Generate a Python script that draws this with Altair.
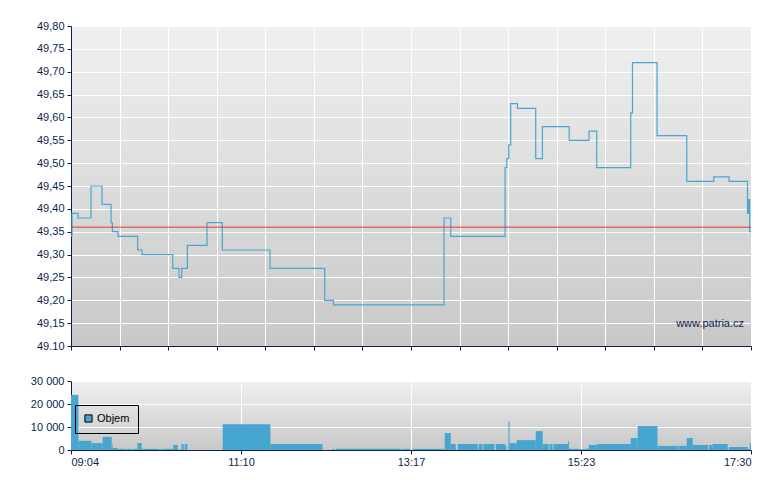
import altair as alt
import pandas as pd

# ---- data (minutes after 09:04) ----
price_t = [0, 0.75, 5.2, 14.9, 23.1, 29.8, 30.8, 35.0, 49.6, 52.9, 75.7, 80.4, 82.4,
           86.6, 101.2, 112.6, 148.1, 188.8, 195.3, 277.6, 282.6, 323.0, 324.3, 325.7,
           327.2, 332.2, 345.8, 350.8, 370.7, 385.5, 391.2, 416.5, 417.8, 436.1, 458.2,
           478.3, 489.7, 503.4, 504.1, 505.0, 506.0]
price_v = [49.34, 49.39, 49.38, 49.45, 49.41, 49.37, 49.35, 49.34, 49.31, 49.30, 49.27,
           49.25, 49.27, 49.32, 49.37, 49.31, 49.27, 49.20, 49.19, 49.38, 49.34, 49.49,
           49.51, 49.54, 49.63, 49.62, 49.51, 49.58, 49.55, 49.57, 49.49, 49.61, 49.72,
           49.56, 49.46, 49.47, 49.46, 49.39, 49.42, 49.35, 49.35]

vol_start = [0, 5.5, 15.2, 23.6, 30.3, 31.0, 34.5, 41.5, 45.2, 49.4, 52.6, 54.3, 66.2,
             68.2, 76.2, 79.4, 82.2, 84.6, 112.9, 148.4, 194.5, 197.0, 246.6, 254.5,
             278.1, 282.6, 287.8, 303.4, 306.9, 316.1, 323.0, 325.5, 326.3, 331.7, 345.8,
             351.0, 356.2, 359.0, 369.9, 370.6, 377.1, 382.3, 385.3, 391.2, 416.5, 421.7,
             436.4, 452.0, 458.2, 462.7, 474.8, 477.3, 489.5, 503.6, 505.1]
vol_end = [5.5, 15.2, 23.6, 30.3, 31.0, 34.5, 40.7, 44.4, 49.4, 52.6, 54.3, 65.8, 67.5,
           76.2, 79.4, 82.2, 83.9, 86.6, 148.4, 187.1, 196.0, 245.9, 252.1, 277.6,
           282.6, 286.3, 302.7, 306.2, 315.1, 323.0, 324.0, 326.3, 331.7, 345.8, 351.0,
           355.5, 358.3, 369.9, 370.6, 377.1, 382.3, 385.3, 391.2, 416.5, 421.7, 436.4,
           451.5, 458.2, 462.7, 474.1, 477.3, 488.7, 503.6, 505.1, 506.0]
vol_value = [24000, 4000, 3000, 5700, 2600, 900, 500, 500, 500, 3000, 500, 500, 500,
             500, 2200, 200, 2600, 2600, 11200, 2600, 500, 500, 500, 500,
             7400, 2600, 2600, 2600, 2600, 2600, 2000, 12500, 3000, 4300, 8200,
             2600, 2600, 2600, 3900, 500, 300, 500, 2200, 2600, 5200, 10400,
             1800, 1800, 5200, 2200, 2200, 2600, 1300, 500, 3000]
vol_series = ["Objem"] * len(vol_value)

prev_close = [49.36]
watermark = ["www.patria.cz"]

price_ticks = [49.10, 49.15, 49.20, 49.25, 49.30, 49.35, 49.40, 49.45, 49.50,
               49.55, 49.60, 49.65, 49.70, 49.75, 49.80]
price_tick_labels = ["49.10", "49,15", "49,20", "49,25", "49,30", "49,35", "49,40",
                     "49,45", "49,50", "49,55", "49,60", "49,65", "49,70", "49,75", "49,80"]
top_x_ticks = [0, 36.14, 72.29, 108.43, 144.57, 180.71, 216.86, 253.0, 289.14,
               325.29, 361.43, 397.57, 433.71, 469.86, 506.0]
time_ticks = [0, 126.5, 253.0, 379.5, 506.0]
time_labels = ["09:04", "11:10", "13:17", "15:23", "17:30"]
vol_ticks = [0, 10000, 20000, 30000]
vol_tick_labels = ["0", "10 000", "20 000", "30 000"]

NAVY = "#0b1f4e"
LINE = "#4aa5d0"
BAR = "#46a6cf"
RED = "#e8342e"
FONT = "Liberation Sans"


def lookup_expr(labels, start, step):
    arr = "[" + ",".join("'" + s + "'" for s in labels) + "]"
    return f"{arr}[round((datum.value - {start}) / {step})]"


price_df = pd.DataFrame({"t": price_t, "p": price_v})
vol_df = pd.DataFrame({"t0": vol_start, "t1": vol_end, "v": vol_value, "s": vol_series})

xscale = alt.Scale(domain=[0, 506], nice=False, zero=False)

y_price = alt.Y(
    "p:Q", scale=alt.Scale(domain=[49.10, 49.80], nice=False, zero=False),
    axis=alt.Axis(values=price_ticks, title=None, tickSize=4, labelPadding=3,
                  labelOverlap=False, tickCount=15,
                  labelExpr=lookup_expr(price_tick_labels, 49.10, 0.05),
                  minExtent=41, maxExtent=41),
)

line = alt.Chart(price_df).mark_line(
    interpolate="step-after", color=LINE, strokeWidth=1.2
).encode(
    x=alt.X("t:Q", scale=xscale,
            axis=alt.Axis(values=top_x_ticks, labels=False, title=None, tickSize=4, grid=True)),
    y=y_price,
)
rule = alt.Chart(pd.DataFrame({"p": prev_close})).mark_rule(color=RED, strokeWidth=1).encode(
    y=y_price
)
wm = alt.Chart(pd.DataFrame({"w": watermark})).mark_text(
    align="right", baseline="middle", font=FONT, fontSize=11, color=NAVY
).encode(x=alt.value(673), y=alt.value(298), text="w:N")

top = alt.layer(line, rule, wm).properties(width=680, height=320)

bars = alt.Chart(vol_df).mark_rect().encode(
    x=alt.X("t0:Q", scale=xscale,
            axis=alt.Axis(values=time_ticks, title=None, grid=True, tickSize=4, labelPadding=2,
                          labelOverlap=False,
                          labelExpr=lookup_expr(time_labels, 0, 126.5))),
    x2="t1:Q",
    y=alt.Y("v:Q", scale=alt.Scale(domain=[0, 30000], nice=False),
            axis=alt.Axis(values=vol_ticks, title=None, tickSize=4, labelPadding=3,
                          labelOverlap=False,
                          labelExpr=lookup_expr(vol_tick_labels, 0, 10000),
                          minExtent=41, maxExtent=41)),
    y2=alt.datum(0),
    color=alt.Color("s:N", scale=alt.Scale(domain=["Objem"], range=[BAR]),
                    legend=alt.Legend(orient="none", legendX=4, legendY=24, title=None,
                                      strokeColor="black", padding=8, symbolType="square",
                                      symbolSize=52, symbolStrokeColor="black",
                                      symbolStrokeWidth=1, symbolOpacity=1,
                                      labelFont=FONT, labelFontSize=11, labelColor="black",
                                      labelOffset=3)),
).properties(width=680, height=69)

grad = ("{gradient: 'linear', x1: 0, y1: 0, x2: 0, y2: 1, "
        "stops: [{offset: 0, color: '#f0f0f0'}, {offset: 1, color: '#c8c8c8'}]}")

chart = alt.vconcat(top, bars, spacing=24).resolve_scale(color="independent").properties(
    padding={"left": 22, "top": 12, "right": 5, "bottom": 5},
    background="white",
).configure_view(
    stroke=None, fill={"expr": grad}
).configure_axis(
    domainColor=NAVY, tickColor=NAVY, labelColor=NAVY, labelFont=FONT, labelFontSize=11,
    gridColor="white", gridWidth=1, gridOpacity=1, domainWidth=1, tickWidth=1
)

chart.save("out.html", embed_options={"renderer": "svg", "actions": False})
